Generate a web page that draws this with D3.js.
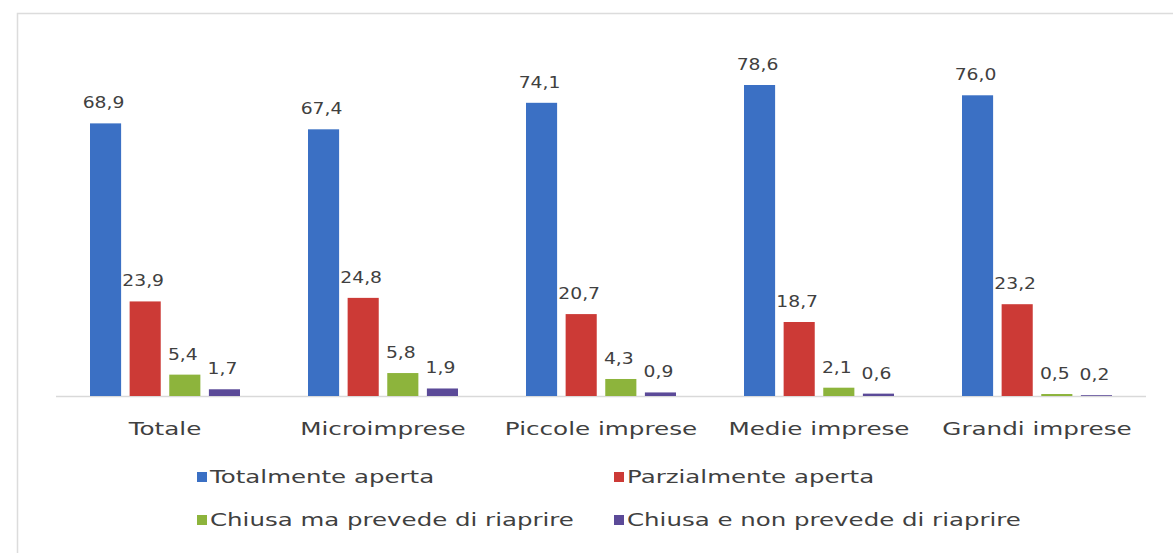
<!DOCTYPE html>
<html><head><meta charset="utf-8">
<script src="https://cdn.jsdelivr.net/npm/d3@7"></script>
<style>html,body{margin:0;padding:0;background:#fff;}</style>
</head><body>
<svg id="c" width="1173" height="553"></svg>
<script>
const categories = ["Totale","Microimprese","Piccole imprese","Medie imprese","Grandi imprese"];
const seriesNames = ["Totalmente aperta","Parzialmente aperta","Chiusa ma prevede di riaprire","Chiusa e non prevede di riaprire"];
const totalmenteAperta = [68.9,67.4,74.1,78.6,76.0];
const parzialmenteAperta = [23.9,24.8,20.7,18.7,23.2];
const chiusaRiapre = [5.4,5.8,4.3,2.1,0.5];
const chiusaNonRiapre = [1.7,1.9,0.9,0.6,0.2];
const colors = ["#3b70c4","#cc3a36","#8db43c","#5b4a98"];

const series = [totalmenteAperta, parzialmenteAperta, chiusaRiapre, chiusaNonRiapre];
const svg = d3.select("#c");
const fmt = v => d3.format(".1f")(v).replace(".", ",");

// frame
svg.append("rect").attr("x",17.5).attr("y",13.5).attr("width",1170).attr("height",560)
  .attr("fill","none").attr("stroke","#dcdcdc").attr("stroke-width",1.5);

const left = 56, right = 1146, base = 396;
const groupW = 150;
const x0 = d3.scaleBand().domain(categories).range([left,right]).paddingInner(0).paddingOuter(0);
const x1 = d3.scaleBand().domain(d3.range(4)).range([0,groupW]).paddingInner(0.215).paddingOuter(0);
const y = d3.scaleLinear().domain([0,78.6]).range([base, 85]);

const groupOff = (x0.bandwidth() - groupW)/2;

svg.append("line").attr("x1",left).attr("x2",right).attr("y1",base+0.5).attr("y2",base+0.5)
  .attr("stroke","#d9d9d9").attr("stroke-width",1.5);

const g = svg.selectAll("g.grp").data(categories).join("g")
  .attr("transform", c => `translate(${x0(c)+groupOff},0)`);

series.forEach((vals, si) => {
  g.append("rect")
    .attr("x", x1(si))
    .attr("width", x1.bandwidth())
    .attr("y", (c,i) => y(vals[i]))
    .attr("height", (c,i) => base - y(vals[i]))
    .attr("fill", colors[si]);
  g.append("text")
    .attr("transform", (c,i) => `translate(${x1(si)+x1.bandwidth()/2 - 2},${y(vals[i])-15}) scale(1.25,1)`)
    .attr("text-anchor","middle")
    .attr("font-family","DejaVu Sans, sans-serif")
    .attr("font-size",15)
    .attr("fill","#404040")
    .text((c,i) => fmt(vals[i]));
});

// category axis labels
svg.append("g").selectAll("text").data(categories).join("text")
  .attr("transform", c => `translate(${x0(c)+x0.bandwidth()/2},435) scale(1.45,1)`)
  .attr("text-anchor","middle")
  .attr("font-family","DejaVu Sans, sans-serif")
  .attr("font-size",17)
  .attr("fill","#404040")
  .text(c => c);

// legend
const legPos = [[197,477],[614,477],[197,520],[614,520]];
const leg = svg.append("g").selectAll("g").data(seriesNames).join("g")
  .attr("transform",(d,i)=>`translate(${legPos[i][0]},${legPos[i][1]})`);
leg.append("rect").attr("x",0).attr("y",-5).attr("width",10).attr("height",10)
  .attr("fill",(d,i)=>colors[i]);
leg.append("text").attr("transform","translate(13,6) scale(1.44,1)")
  .attr("font-family","DejaVu Sans, sans-serif").attr("font-size",17)
  .attr("fill","#404040").text(d=>d);
</script>
</body></html>
